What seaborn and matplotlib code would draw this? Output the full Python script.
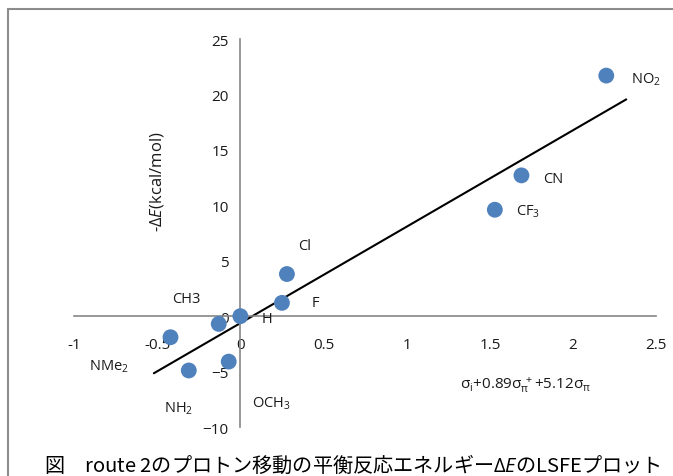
import matplotlib
matplotlib.use("Agg")
import matplotlib.pyplot as plt
from matplotlib.lines import Line2D
import seaborn as sns
import numpy as np
import pandas as pd

# substituent constants (x) and -dE in kcal/mol (y)
substituents = ["NO2", "CN", "CF3", "Cl", "F", "H", "CH3", "NMe2", "OCH3", "NH2"]
sigma_sum = [2.20, 1.69, 1.53, 0.28, 0.25, 0.00, -0.13, -0.42, -0.07, -0.31]
neg_dE = [21.7, 12.7, 9.6, 3.8, 1.2, 0.0, -0.7, -1.9, -4.1, -4.9]

# label text and where it sits (data coords, left/centre anchored)
label_text = [r"NO$_2$", "CN", r"CF$_3$", "Cl", "F", "H", "CH3",
              r"NMe$_2$", r"OCH$_3$", r"NH$_2$"]
label_x = [2.35, 1.82, 1.66, 0.35, 0.43, 0.13, -0.41, -0.91, 0.07, -0.46]
label_y = [21.4, 12.4, 9.5, 6.4, 1.2, -0.2, 1.6, -4.5, -7.8, -8.3]

fit_range = [-0.52, 2.32]
x_ticks = [-1, -0.5, 0, 0.5, 1, 1.5, 2, 2.5]
y_ticks = [-10, -5, 0, 5, 10, 15, 20, 25]

sns.set_style("white")
plt.rcParams['font.family'] = ['Open Sans', 'DejaVu Sans']
plt.rcParams['mathtext.fontset'] = 'custom'
plt.rcParams['mathtext.rm'] = 'Open Sans'
plt.rcParams['mathtext.it'] = 'Open Sans:italic'

df = pd.DataFrame({"x": sigma_sum, "y": neg_dE, "name": substituents})

fig = plt.figure(figsize=(6.73, 4.77), dpi=100)
ax = fig.add_axes([0.110, 0.1027, 0.865, 0.8134])

# least-squares line through the points
slope, intercept = np.polyfit(df["x"], df["y"], 1)
fx = np.array(fit_range)
sns.lineplot(x=fx, y=slope * fx + intercept, color="black", lw=1.5, ax=ax)

sns.scatterplot(data=df, x="x", y="y", s=130, color="#4F81BD",
                edgecolor="none", ax=ax, zorder=3)

for t, lx, ly in zip(label_text, label_x, label_y):
    ax.text(lx, ly, t, fontsize=10.5, ha="left", va="center", color="#1a1a1a")

ax.set_xlim(-1, 2.5)
ax.set_ylim(-10, 25)
ax.set_xticks(x_ticks)
ax.set_xticklabels(["-1", "-0.5", "0", "0.5", "1", "1.5", "2", "2.5"])
ax.set_yticks(y_ticks)
ax.set_xlabel("")
ax.set_ylabel("")

# Excel style axes crossing at the origin
for side in ["top", "right"]:
    ax.spines[side].set_visible(False)
ax.spines["left"].set_position(("data", 0))
ax.spines["bottom"].set_position(("data", 0))
for side in ["left", "bottom"]:
    ax.spines[side].set_color("#868686")
    ax.spines[side].set_linewidth(1.2)
ax.tick_params(direction="out", length=5, width=1.2, color="#868686",
               labelsize=11, labelcolor="#1a1a1a")
ax.tick_params(axis="x", pad=10)
ax.patch.set_alpha(0)

ax.text(0.143, 0.634, r"-$\it{\Delta E}$(kcal/mol)", rotation=90,
        transform=ax.transAxes, ha="center", va="center", fontsize=12,
        color="#1a1a1a")
ax.text(0.775, 0.111, r"$\mathregular{σ_i}$+0.89$\mathregular{σ_π^{\ +}}$+5.12$\mathregular{σ_π}$",
        transform=ax.transAxes, ha="center", va="center", fontsize=11,
        color="#1a1a1a")

# outer frame (top and left edges only visible)
fig.add_artist(Line2D([8 / 673, 1], [1 - 10 / 477, 1 - 10 / 477],
                      color="#8c8c8c", lw=1.5, transform=fig.transFigure))
fig.add_artist(Line2D([8 / 673, 8 / 673], [0, 1 - 10 / 477],
                      color="#8c8c8c", lw=1.5, transform=fig.transFigure))

fig.text(0.524, 0.024, "図　route 2のプロトン移動の平衡反応エネルギー$\\it{ΔE}$のLSFEプロット",
         family=['Noto Sans CJK JP', 'DejaVu Sans'], fontsize=14.5,
         ha="center", va="center", color="black")

fig.savefig("out.png", dpi=100)
